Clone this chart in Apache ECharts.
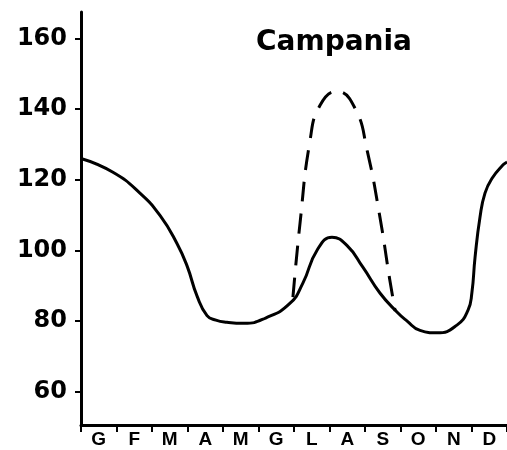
<!DOCTYPE html>
<html>
<head>
<meta charset="utf-8">
<script src="https://cdn.jsdelivr.net/npm/echarts@6/dist/echarts.min.js"></script>
<style>html,body{margin:0;padding:0;background:#fff;}#c{width:507px;height:450px;}</style>
</head>
<body>
<div id="c"></div>
<script>
var months = ['G','F','M','A','M','G','L','A','S','O','N','D'];
var yTicks = [60, 80, 100, 120, 140, 160];
var solidX = [0, 0.9, 1.66, 2.23, 2.7, 2.99, 3.27, 3.55, 3.8, 4.11, 4.6, 5.2, 5.89, 6.25, 6.65, 7.07, 7.49, 7.94, 8.42, 8.9, 9.18, 9.55, 10.03, 10.59, 10.9, 11.01, 11.1, 11.24, 11.38, 11.58, 11.89, 12];
var solidY = [126, 122.1, 116.2, 109.8, 102, 95.5, 87, 81.5, 80.2, 79.6, 79.3, 80.8, 85, 90.7, 100, 103.7, 101.4, 95.2, 87.9, 82.5, 80, 77.3, 76.6, 78.8, 83, 87.9, 98, 109.4, 116.2, 120.4, 124.2, 125];
var dashX = [5.97, 6.17, 6.45, 6.73, 7.21, 7.72, 8.06, 8.42, 8.7, 8.85];
var dashY = [86.7, 107.7, 131, 141, 145, 140.2, 128.3, 109.4, 91.5, 82.8];

function pairs(xs, ys){ return xs.map(function(x,i){ return [x, ys[i]]; }); }

var chart = echarts.init(document.getElementById('c'));
chart.setOption({
  animation: false,
  backgroundColor: '#fff',
  title: {
    text: 'Campania', left: 334, top: 29, textAlign: 'center', padding: 0,
    textStyle: {fontFamily: 'DejaVu Sans', fontWeight: 'bold', fontSize: 28, color: '#000'}
  },
  grid: {left: 81, right: 0, top: 12, bottom: 25, containLabel: false},
  xAxis: [{
    type: 'category', data: months, boundaryGap: true, position: 'bottom',
    axisLine: {lineStyle: {color: '#000', width: 3}},
    axisTick: {show: true, length: 7, lineStyle: {color: '#000', width: 2}},
    axisLabel: {fontFamily: 'Liberation Sans', fontWeight: 'bold', fontSize: 19, color: '#000', margin: 5, interval: 0},
    splitLine: {show: false}
  }, {
    type: 'value', min: 0, max: 12, show: false, position: 'bottom'
  }],
  yAxis: {
    type: 'value', min: 50.5, max: 167.5,
    axisLine: {show: true, lineStyle: {color: '#000', width: 3}},
    axisTick: {show: true, length: 6, customValues: yTicks, lineStyle: {color: '#000', width: 2}},
    axisLabel: {customValues: yTicks, fontFamily: 'DejaVu Sans', fontWeight: 'bold', fontSize: 24, color: '#000', margin: 14},
    splitLine: {show: false}
  },
  series: [{
    type: 'line', xAxisIndex: 1, data: pairs(solidX, solidY), smooth: 0.5,
    showSymbol: false, symbol: 'none',
    lineStyle: {color: '#000', width: 3}
  }, {
    type: 'line', xAxisIndex: 1, data: pairs(dashX, dashY), smooth: 0.5,
    showSymbol: false, symbol: 'none',
    lineStyle: {color: '#000', width: 3, type: [20, 12]}
  }]
});
</script>
</body>
</html>
